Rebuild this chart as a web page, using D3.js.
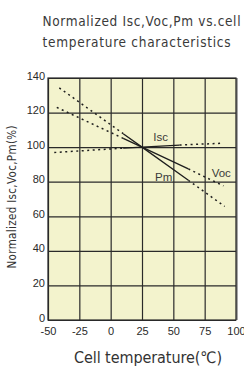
<!DOCTYPE html>
<html><head><meta charset="utf-8">
<script src="https://cdn.jsdelivr.net/npm/d3@7"></script>
<style>body{margin:0;background:#fff}svg{display:block}</style>
</head><body><svg id="c" width="244" height="367"></svg>
<script>
const xTicks = [-50, -25, 0, 25, 50, 75, 100];
const yTicks = [0, 20, 40, 60, 80, 100, 120, 140];
const seriesNames = ["Isc", "Voc", "Pm"];
const iscTemps = [-45, 10, 25, 55, 90];
const iscValues = [96.9, 99.4, 100, 101.2, 102.3];
const vocTemps = [-43, 10, 25, 62, 90];
const vocValues = [123, 105.1, 100, 87.4, 77.6];
const pmTemps = [-41, 10, 25, 62, 91];
const pmValues = [134.3, 107.8, 100, 80.8, 65.7];
const titleLines = ["Normalized Isc,Voc,Pm vs.cell", "temperature characteristics"];
const yLabel = "Normalized Isc,Voc,Pm(%)";
const xLabel = "Cell temperature(℃)";

const svg = d3.select("#c");
const L = 48, R = 236, T = 78, B = 320;
const x = d3.scaleLinear().domain([-50, 100]).range([L, R]);
const y = d3.scaleLinear().domain([0, 140]).range([B, T]);
const ink = "#2a2a2a";
const font = "'Liberation Sans', Arial, sans-serif";
const narrow = "'Liberation Sans Narrow', 'Arial Narrow', 'DejaVu Sans Condensed', sans-serif";

// background
svg.append("rect").attr("x", L).attr("y", T).attr("width", R - L).attr("height", B - T)
  .attr("fill", "#f3f3cd");

// grid via axes
const gx = svg.append("g").attr("transform", `translate(0,${B})`)
  .call(d3.axisBottom(x).tickValues(xTicks).tickSize(-(B - T)).tickFormat(d => String(d)));
gx.select(".domain").remove();
gx.selectAll("line").attr("stroke", ink).attr("stroke-width", 1.2);
gx.selectAll("text").attr("font-family", font).attr("font-size", 11).attr("fill", ink)
  .attr("y", 0).attr("dy", 14.5);

const gy = svg.append("g").attr("transform", `translate(${L},0)`)
  .call(d3.axisLeft(y).tickValues(yTicks).tickSize(-(R - L)).tickFormat(d => String(d)));
gy.select(".domain").remove();
gy.selectAll("line").attr("stroke", ink).attr("stroke-width", 1.2);
gy.selectAll("text").attr("font-family", font).attr("font-size", 11).attr("fill", ink)
  .attr("x", -3).attr("dy", 1);

// border
svg.append("rect").attr("x", L).attr("y", T).attr("width", R - L).attr("height", B - T)
  .attr("fill", "none").attr("stroke", ink).attr("stroke-width", 1.2);
svg.append("line").attr("x1", R + 1.3).attr("x2", R + 1.3).attr("y1", T).attr("y2", B)
  .attr("stroke", "#a0a0a0").attr("stroke-width", 1.2);

// series
const series = [
  {name: seriesNames[0], t: iscTemps, v: iscValues},
  {name: seriesNames[1], t: vocTemps, v: vocValues},
  {name: seriesNames[2], t: pmTemps, v: pmValues}
];
const line = d3.line().x(d => x(d[0])).y(d => y(d[1]));
series.forEach(s => {
  const pts = s.t.map((t, i) => [t, s.v[i]]);
  const parts = [
    {p: pts.slice(0, 2), dash: "2,3.5"},
    {p: pts.slice(1, 4), dash: null},
    {p: pts.slice(3, 5), dash: "2,3.5"}
  ];
  parts.forEach(part => {
    svg.append("path").attr("d", line(part.p)).attr("fill", "none")
      .attr("stroke", "#1e1e1e").attr("stroke-width", part.dash ? 1.5 : 1.3)
      .attr("stroke-dasharray", part.dash);
  });
});

// series labels (anchored in data coordinates)
const labelPos = {Isc: [34, 103.6], Pm: [35.4, 80.6], Voc: [80.6, 82.8]};
seriesNames.forEach(n => {
  svg.append("text").attr("x", x(labelPos[n][0])).attr("y", y(labelPos[n][1]))
    .attr("font-family", font).attr("font-size", 11.5).attr("fill", "#3a3a3a").text(n);
});

// title
const tw = [198, 188];
titleLines.forEach((t, i) => {
  svg.append("text").attr("x", 42.5).attr("y", 26 + i * 20.5)
    .attr("font-family", narrow).attr("font-size", 13.5).attr("fill", "#3a3a3a")
    .attr("textLength", tw[i]).attr("lengthAdjust", "spacing").text(t);
});

// axis labels
svg.append("text").attr("transform", `translate(15.5,${(T + B) / 2 - 2}) rotate(-90)`)
  .attr("text-anchor", "middle").attr("font-family", narrow).attr("font-size", 11.5)
  .attr("fill", "#333").attr("textLength", 143).attr("lengthAdjust", "spacing").text(yLabel);
svg.append("text").attr("x", 148).attr("y", 363).attr("text-anchor", "middle")
  .attr("font-family", narrow).attr("font-size", 16).attr("fill", "#333")
  .attr("textLength", 148).attr("lengthAdjust", "spacing").text(xLabel);
</script></body></html>
